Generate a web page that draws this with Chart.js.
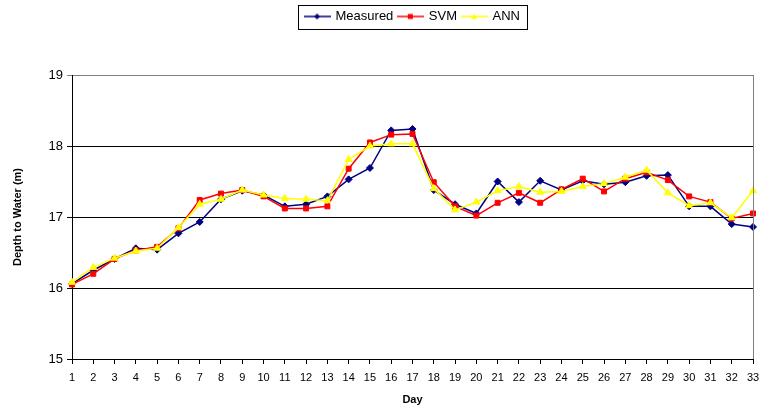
<!DOCTYPE html>
<html>
<head>
<meta charset="utf-8">
<script src="https://cdn.jsdelivr.net/npm/chart.js@4/dist/chart.umd.min.js"></script>
<style>
html,body{margin:0;padding:0;background:#fff;}
#wrap{width:759px;height:412px;}
</style>
</head>
<body>
<div id="wrap"><canvas id="c" width="759" height="412"></canvas></div>
<script>
const days = ['1','2','3','4','5','6','7','8','9','10','11','12','13','14','15','16','17','18','19','20','21','22','23','24','25','26','27','28','29','30','31','32','33'];
const measured = [16.06,16.25,16.41,16.56,16.54,16.77,16.93,17.25,17.37,17.31,17.15,17.18,17.29,17.53,17.69,18.22,18.24,17.38,17.18,17.05,17.50,17.21,17.51,17.38,17.51,17.46,17.49,17.58,17.59,17.15,17.15,16.90,16.86];
const svm      = [16.05,16.20,16.41,16.53,16.58,16.84,17.24,17.33,17.38,17.29,17.12,17.12,17.15,17.68,18.05,18.16,18.17,17.49,17.15,17.02,17.20,17.34,17.20,17.39,17.54,17.36,17.54,17.63,17.52,17.29,17.21,16.98,17.05];
const ann      = [16.08,16.29,16.42,16.52,16.56,16.85,17.18,17.25,17.38,17.31,17.26,17.25,17.23,17.81,18.00,18.03,18.03,17.40,17.10,17.21,17.37,17.43,17.35,17.36,17.43,17.47,17.56,17.66,17.34,17.16,17.20,16.99,17.37];
const yTicks = [15,16,17,18,19];

function legendIcon(color, style, r){
  const c = document.createElement('canvas');
  c.width = 27; c.height = 10;
  const g = c.getContext('2d');
  g.strokeStyle = color; g.lineWidth = 1.5;
  g.beginPath(); g.moveTo(0,5); g.lineTo(27,5); g.stroke();
  g.fillStyle = color;
  g.beginPath();
  const cx = 13.5;
  if (style==='diamond'){ g.moveTo(cx,5-r); g.lineTo(cx+r,5); g.lineTo(cx,5+r); g.lineTo(cx-r,5); }
  else if (style==='square'){ g.rect(cx-r,5-r,2*r,2*r); }
  else { g.moveTo(cx,5-r); g.lineTo(cx+r,5+r*0.8); g.lineTo(cx-r,5+r*0.8); }
  g.closePath(); g.fill();
  return c;
}

const frame = {
  id:'frame',
  beforeInit(chart){
    const lg = chart.legend;
    if (lg){ const f = lg.fit; lg.fit = function(){ f.call(this); this.height += 42; }; }
  },
  afterDraw(chart){
    const ctx = chart.ctx, a = chart.chartArea;
    ctx.save();
    ctx.strokeStyle = '#808080'; ctx.lineWidth = 1;
    ctx.beginPath(); ctx.moveTo(a.right+0.5, a.top); ctx.lineTo(a.right+0.5, a.bottom); ctx.stroke();
    const hb = chart.legend.legendHitBoxes;
    if (hb && hb.length){
      let l = Infinity, r = -Infinity, t = Infinity, b = -Infinity;
      hb.forEach(h=>{ l=Math.min(l,h.left); r=Math.max(r,h.left+h.width); t=Math.min(t,h.top); b=Math.max(b,h.top+h.height); });
      ctx.strokeStyle = '#000';
      ctx.strokeRect(Math.round(l-7.5)+0.5, Math.round(t-5)+0.5, Math.round(r-l+14.5), Math.round(b-t+10.5));
    }
    ctx.restore();
  }
};

new Chart(document.getElementById('c'), {
  type:'line',
  data:{
    labels: days,
    datasets:[
      {label:'Measured', data:measured, borderColor:'#000080', backgroundColor:'#000080', pointStyle:'rectRot', pointRadius:3.5, borderWidth:1.5, pointBorderWidth:1, order:2, clip:false, legendIcon: legendIcon('#000080','diamond',3)},
      {label:'SVM', data:svm, borderColor:'#FF0000', backgroundColor:'#FF0000', pointStyle:'rect', pointRadius:3.5, borderWidth:1.5, pointBorderWidth:1, order:1, clip:false, legendIcon: legendIcon('#FF0000','square',2.5)},
      {label:'ANN', data:ann, borderColor:'#FFFF00', backgroundColor:'#FFFF00', pointStyle:'triangle', pointRadius:4, borderWidth:1.5, pointBorderWidth:1, order:0, clip:false, legendIcon: legendIcon('#FFFF00','triangle',3)}
    ]
  },
  options:{
    responsive:false,
    animation:false,
    events:[],
    layout:{padding:{top:5,right:0,left:0,bottom:0}},
    plugins:{
      tooltip:{enabled:false},
      legend:{
        display:true,
        position:'top',
        fullSize:false,
        labels:{
          usePointStyle:true,
          pointStyleWidth:24,
          padding:5,
          color:'#000',
          font:{family:'Arial, "Liberation Sans", sans-serif', size:13},
          sort:(a,b)=>a.datasetIndex-b.datasetIndex,
          generateLabels(chart){
            return chart.data.datasets.map((d,i)=>({
              text:d.label, datasetIndex:i, pointStyle:d.legendIcon,
              fillStyle:d.backgroundColor, strokeStyle:d.borderColor, lineWidth:0, hidden:false, fontColor:'#000'
            }));
          }
        }
      }
    },
    scales:{
      x:{
        offset:false,
        border:{color:'#000', width:1},
        grid:{drawOnChartArea:false, drawTicks:true, tickLength:5, color:'#000'},
        ticks:{color:'#000', maxRotation:0, autoSkip:false, padding:7, font:{family:'Arial, "Liberation Sans", sans-serif', size:11}},
        title:{display:true, text:'Day', color:'#000', padding:{top:0,bottom:5}, font:{family:'Arial, "Liberation Sans", sans-serif', size:11, weight:'bold'}},
        afterFit(s){ s.height = 53; s.paddingRight = 6; s.paddingLeft = 0; }
      },
      y:{
        min:15, max:19,
        border:{color:'#000', width:1},
        grid:{drawTicks:true, tickLength:5, color:(c)=> (c.tick && c.tick.value===19) ? '#808080' : '#000', lineWidth:1},
        afterBuildTicks(s){ s.ticks = yTicks.map(v=>({value:v})); },
        ticks:{color:'#000', padding:4, font:{family:'Arial, "Liberation Sans", sans-serif', size:13}},
        title:{display:true, text:'Depth to Water (m)', color:'#000', padding:{top:11,bottom:0}, font:{family:'Arial, "Liberation Sans", sans-serif', size:11, weight:'bold'}},
        afterFit(s){ s.width = 72; }
      }
    }
  },
  plugins:[frame]
});
</script>
</body>
</html>
